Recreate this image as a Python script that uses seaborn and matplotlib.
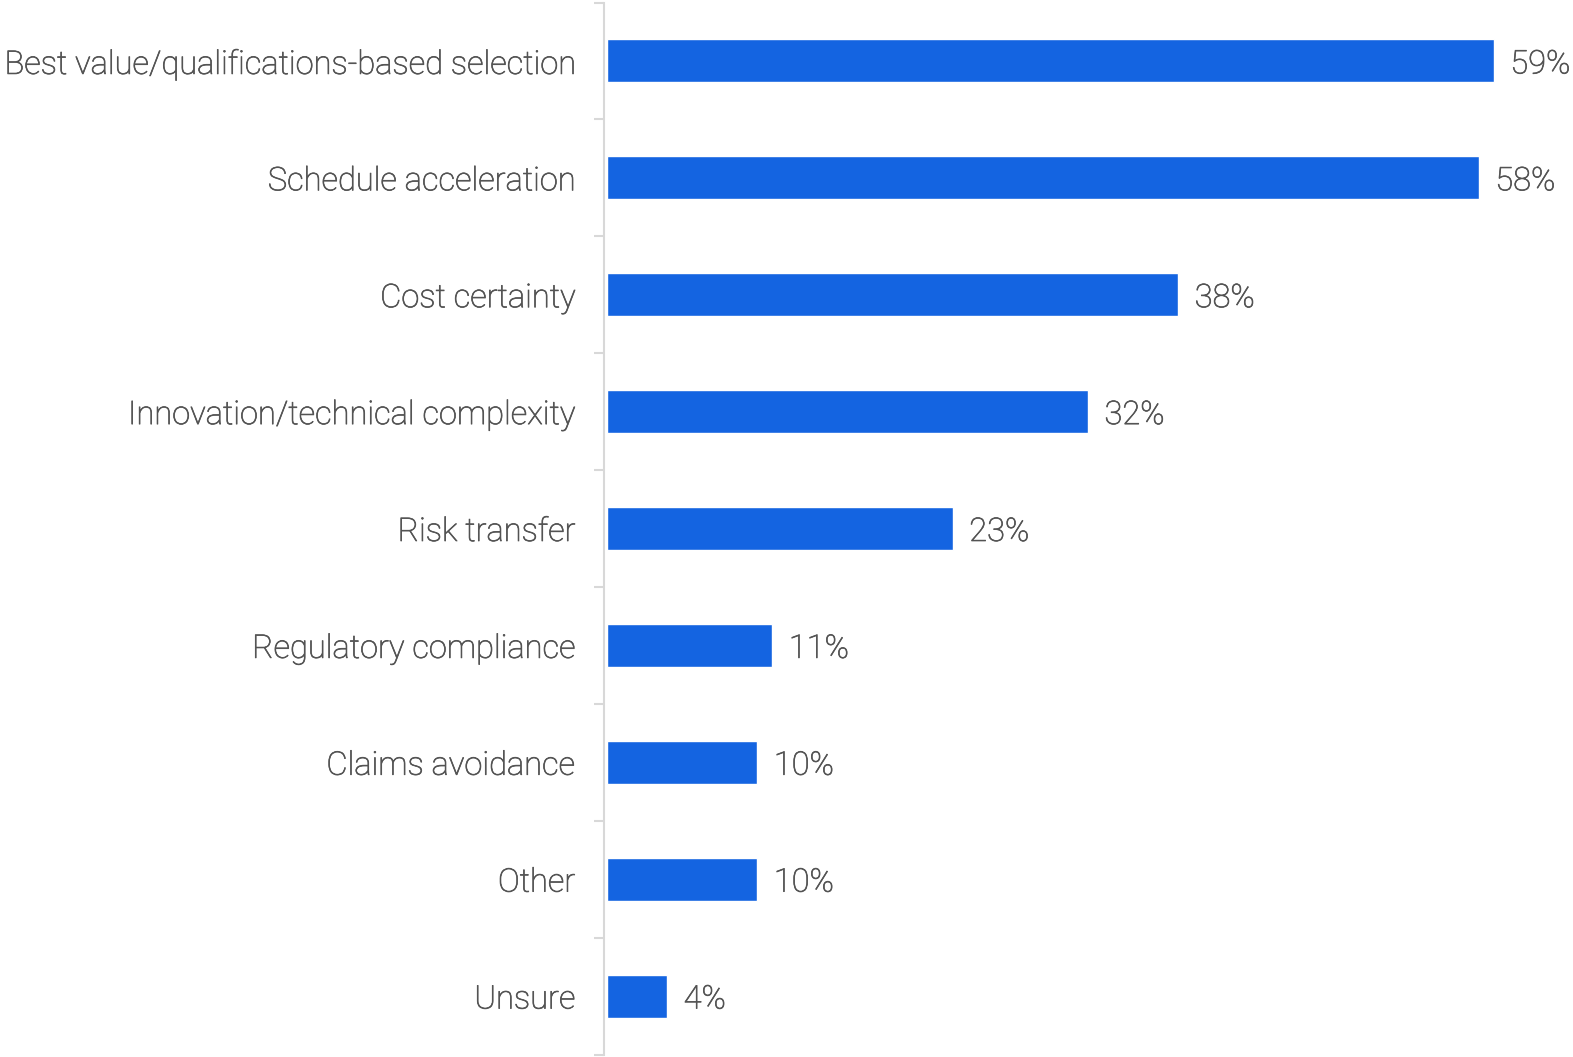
import numpy as np
import pandas as pd
import matplotlib
matplotlib.use("Agg")
import matplotlib.pyplot as plt
import matplotlib.patheffects as pe
import seaborn as sns

categories = [
    "Best value/qualifications-based selection",
    "Schedule acceleration",
    "Cost certainty",
    "Innovation/technical complexity",
    "Risk transfer",
    "Regulatory compliance",
    "Claims avoidance",
    "Other",
    "Unsure",
]
values = [59, 58, 38, 32, 23, 11, 10, 10, 4]

df = pd.DataFrame({"category": categories, "value": values})

sns.set_theme(style="white")
plt.rcParams["font.family"] = ["Roboto", "DejaVu Sans"]

text_color = "#535353"
# light weight, thickened a touch to match the reference rendering
thick = [pe.withStroke(linewidth=0.5, foreground=text_color)]

fig = plt.figure(figsize=(15.73, 10.57), dpi=100)
ax = fig.add_axes([607 / 1573, 2.5 / 1057, 1 - 607 / 1573, 1052 / 1057])

sns.barplot(data=df, x="value", y="category", color="#1464E1", width=0.367,
            saturation=1, ax=ax, orient="h")

for i, v in enumerate(values):
    ax.text(v + 1.1, i, f"{v}%", va="center_baseline", ha="left", fontsize=23.5,
            fontweight="light", color=text_color, path_effects=thick)

ax.set_xlim(0, 64.27)
ax.set_ylim(8.5, -0.5)
ax.set_xlabel("")
ax.set_ylabel("")
ax.set_xticks([])

for s in ["top", "right", "bottom"]:
    ax.spines[s].set_visible(False)
ax.spines["left"].set_color("#d8d8d8")
ax.spines["left"].set_linewidth(1.5)
ax.spines["left"].set_position(("outward", 2))

ax.tick_params(axis="y", which="major", left=False, length=0, pad=21,
               labelsize=23.5, labelcolor=text_color)
for lbl in ax.get_yticklabels():
    lbl.set_fontweight("light")
    lbl.set_path_effects(thick)
ax.set_yticks(np.arange(-0.5, 9.0, 1.0), minor=True)
ax.tick_params(axis="y", which="minor", left=True, length=7, width=1.5,
               color="#d8d8d8")

fig.savefig("out.png", dpi=100)
